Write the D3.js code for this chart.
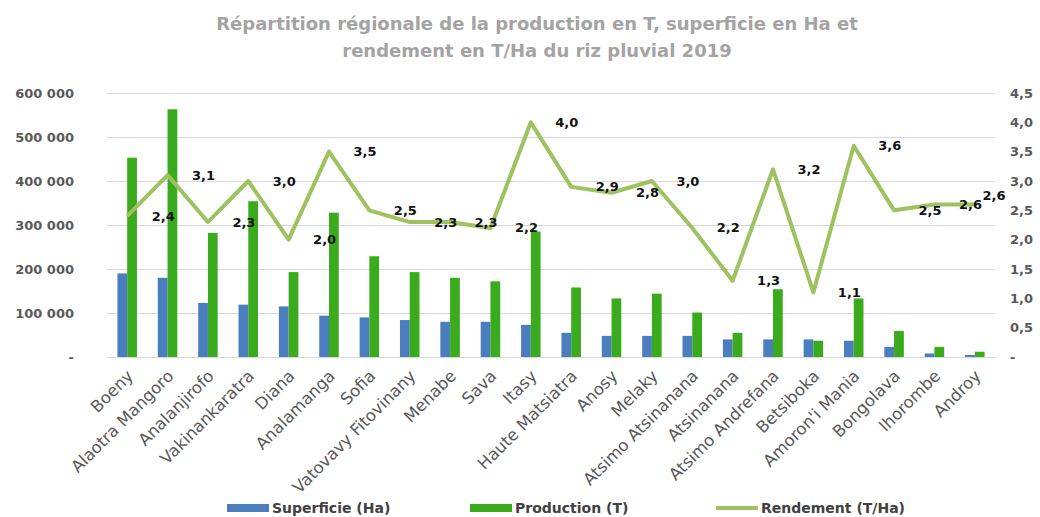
<!DOCTYPE html>
<html>
<head>
<meta charset="utf-8">
<script src="https://cdn.jsdelivr.net/npm/d3@7"></script>
<style>
  body { margin: 0; background: #fff; }
  svg { display: block; font-family: "DejaVu Sans", sans-serif; }
</style>
</head>
<body>
<svg id="chart" width="1040" height="517"></svg>
<script>
const regions = ['Boeny', 'Alaotra Mangoro', 'Analanjirofo', 'Vakinankaratra', 'Diana',
  'Analamanga', 'Sofia', 'Vatovavy Fitovinany', 'Menabe', 'Sava', 'Itasy',
  'Haute Matsiatra', 'Anosy', 'Melaky', 'Atsimo Atsinanana', 'Atsinanana',
  'Atsimo Andrefana', 'Betsiboka', "Amoron'i Mania", 'Bongolava', 'Ihorombe', 'Androy'];

const superficie = [190000, 180000, 123000, 119000, 115000, 94000, 90000, 84000, 80000, 80000,
  73000, 55000, 48000, 48000, 48000, 40000, 40000, 40000, 37000, 23000, 8000, 4500];

const production = [453000, 563000, 282000, 354000, 193000, 328000, 229000, 193000, 180000, 172000,
  285000, 158000, 133000, 144000, 101000, 55000, 154000, 37000, 133000, 59000, 23000, 12000];

const rendement = [2.4, 3.1, 2.3, 3.0, 2.0, 3.5, 2.5, 2.3, 2.3, 2.2, 4.0,
  2.9, 2.8, 3.0, 2.2, 1.3, 3.2, 1.1, 3.6, 2.5, 2.6, 2.6];

const leftTicks = [0, 100000, 200000, 300000, 400000, 500000, 600000];
const rightTicks = [0, 0.5, 1, 1.5, 2, 2.5, 3, 3.5, 4, 4.5];

const titleLines = ['Répartition régionale de la production en T, superficie en Ha et',
  'rendement en T/Ha du riz pluvial 2019'];

const legendItems = [
  { label: 'Superficie (Ha)', type: 'bar', color: '#4a7ebf' },
  { label: 'Production (T)', type: 'bar', color: '#3aab1c' },
  { label: 'Rendement (T/Ha)', type: 'line', color: '#9dc25f' },
];

const colors = { sup: '#4a7ebf', prod: '#3aab1c', line: '#9dc25f' };

const margin = { top: 93, right: 45, bottom: 160, left: 107 };
const width = 1040, height = 517;
const plotW = width - margin.left - margin.right;
const plotH = height - margin.top - margin.bottom;

const svg = d3.select('#chart');
const g = svg.append('g').attr('transform', `translate(${margin.left},${margin.top})`);

const fmtLeft = d => d === 0 ? '-' : d3.format(',')(d).replace(/,/g, ' ');
const fmtRight = d => d === 0 ? '-' : d.toFixed(1).replace('.', ',');

const x0 = d3.scaleBand().domain(regions).range([0, plotW]).padding(0);
const pairW = 19.5;
const x1 = d3.scaleBand().domain(['sup', 'prod'])
  .range([(x0.bandwidth() - pairW) / 2, (x0.bandwidth() + pairW) / 2]);
const yL = d3.scaleLinear().domain([0, 600000]).range([plotH, 0]);
const yR = d3.scaleLinear().domain([0, 4.5]).range([plotH, 0]);

// title
svg.append('g').selectAll('text')
  .data(titleLines)
  .enter().append('text')
  .attr('x', 537)
  .attr('y', (d, i) => 30 + i * 27)
  .attr('text-anchor', 'middle')
  .style('font-size', '18px')
  .style('font-weight', 'bold')
  .style('fill', '#a3a3a3')
  .text(d => d);

// gridlines
g.append('g')
  .call(d3.axisLeft(yL).tickValues(leftTicks).tickSize(-plotW).tickFormat(''))
  .call(s => s.select('.domain').remove())
  .call(s => s.selectAll('line').attr('stroke', '#d9d9d9'));

// left axis
g.append('g')
  .attr('transform', 'translate(-30,0)')
  .call(d3.axisLeft(yL).tickValues(leftTicks).tickSize(0).tickFormat(fmtLeft))
  .call(s => s.select('.domain').remove())
  .call(s => s.selectAll('text')
    .style('font-size', '13px').style('font-weight', 'bold').style('fill', '#595959')
    .style('font-family', '"DejaVu Sans", sans-serif'));

// right axis
g.append('g')
  .attr('transform', `translate(${plotW + 12},0)`)
  .call(d3.axisRight(yR).tickValues(rightTicks).tickSize(0).tickFormat(fmtRight))
  .call(s => s.select('.domain').remove())
  .call(s => s.selectAll('text')
    .style('font-size', '13px').style('font-weight', 'bold').style('fill', '#595959')
    .style('font-family', '"DejaVu Sans", sans-serif'));

// bars
const groups = g.append('g').selectAll('g')
  .data(regions)
  .enter().append('g')
  .attr('transform', d => `translate(${x0(d)},0)`);

groups.append('rect')
  .attr('x', x1('sup'))
  .attr('width', x1.bandwidth())
  .attr('y', (d, i) => yL(superficie[i]))
  .attr('height', (d, i) => plotH - yL(superficie[i]))
  .attr('fill', colors.sup);

groups.append('rect')
  .attr('x', x1('prod'))
  .attr('width', x1.bandwidth())
  .attr('y', (d, i) => yL(production[i]))
  .attr('height', (d, i) => plotH - yL(production[i]))
  .attr('fill', colors.prod);

// x labels
g.append('g')
  .attr('transform', `translate(0,${plotH})`)
  .call(d3.axisBottom(x0).tickSize(0).tickPadding(0))
  .call(s => s.select('.domain').attr('stroke', '#d9d9d9'))
  .call(s => s.selectAll('text')
    .attr('text-anchor', 'end')
    .attr('dy', 0)
    .attr('transform', 'translate(7,20) rotate(-45)')
    .style('font-size', '16.5px').style('fill', '#595959')
    .style('font-family', '"DejaVu Sans", sans-serif'));

// rendement line
const cx = (d, i) => x0(regions[i]) + x0.bandwidth() / 2;
const line = d3.line()
  .x((d, i) => cx(d, i))
  .y(d => yR(d));

g.append('path')
  .datum(rendement)
  .attr('d', line)
  .attr('fill', 'none')
  .attr('stroke', colors.line)
  .attr('stroke-width', 4)
  .attr('stroke-linejoin', 'round');

// line labels, placed right of each point
g.append('g').selectAll('text')
  .data(rendement)
  .enter().append('text')
  .attr('x', (d, i) => Math.min(cx(d, i) + 36, plotW - 1))
  .attr('y', (d, i) => yR(d) - (cx(d, i) + 36 > plotW - 1 ? 9 : 0))
  .attr('dy', '0.35em')
  .attr('text-anchor', 'middle')
  .style('font-size', '13px')
  .style('font-weight', 'bold')
  .style('fill', '#111')
  .text(d => d.toFixed(1).replace('.', ','));

// legend
const legendX = [227, 470, 716];
const legend = svg.append('g').attr('transform', 'translate(0,508)');
legendItems.forEach((item, i) => {
  const lg = legend.append('g').attr('transform', `translate(${legendX[i]},0)`);
  if (item.type === 'bar') {
    lg.append('rect').attr('x', 0).attr('y', -4).attr('width', 42).attr('height', 8).attr('fill', item.color);
  } else {
    lg.append('line').attr('x1', 0).attr('x2', 42).attr('y1', 0).attr('y2', 0)
      .attr('stroke', item.color).attr('stroke-width', 4);
  }
  lg.append('text')
    .attr('x', 45)
    .attr('dy', '0.35em')
    .style('font-size', '14px')
    .style('font-weight', 'bold')
    .style('fill', '#404040')
    .text(item.label);
});
</script>
</body>
</html>
